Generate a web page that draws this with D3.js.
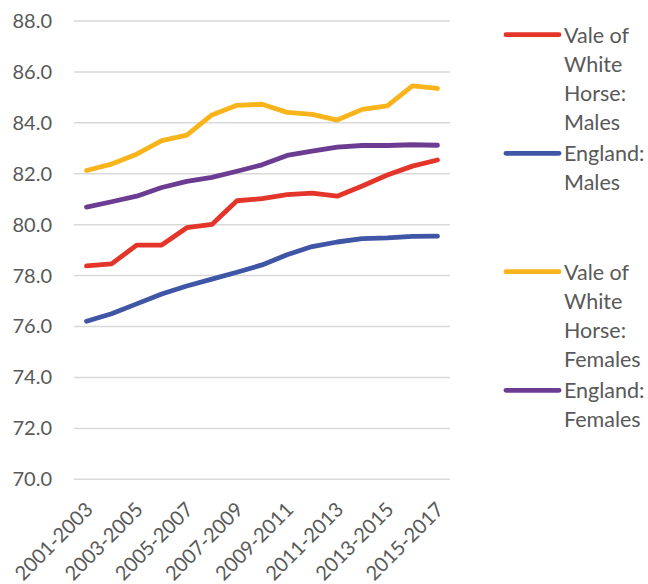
<!DOCTYPE html>
<html>
<head>
<meta charset="utf-8">
<script src="https://cdn.jsdelivr.net/npm/d3@7"></script>
<style>
  html, body { margin: 0; padding: 0; background: #fff; }
  svg { display: block; font-family: Lato, "Open Sans", sans-serif; }
</style>
</head>
<body>
<svg id="chart" width="648" height="584"></svg>
<script>
// Three-year periods
const periods = [
  "2001-2003", "2002-2004", "2003-2005", "2004-2006", "2005-2007",
  "2006-2008", "2007-2009", "2008-2010", "2009-2011", "2010-2012",
  "2011-2013", "2012-2014", "2013-2015", "2014-2016", "2015-2017"
];

// Life expectancy at birth (years)
const valeMales     = [78.38, 78.46, 79.20, 79.20, 79.88, 80.01, 80.94, 81.02, 81.18, 81.24, 81.12, 81.52, 81.95, 82.30, 82.54];
const englandMales  = [76.21, 76.50, 76.89, 77.28, 77.59, 77.86, 78.13, 78.42, 78.82, 79.14, 79.32, 79.45, 79.48, 79.54, 79.55];
const valeFemales   = [82.13, 82.38, 82.77, 83.30, 83.52, 84.31, 84.69, 84.73, 84.41, 84.33, 84.11, 84.53, 84.67, 85.45, 85.35];
const englandFemales= [80.69, 80.90, 81.12, 81.46, 81.70, 81.86, 82.10, 82.35, 82.72, 82.89, 83.05, 83.11, 83.11, 83.14, 83.12];

const yTicks = [70, 72, 74, 76, 78, 80, 82, 84, 86, 88];
const xTickLabels = ["2001-2003", "2003-2005", "2005-2007", "2007-2009", "2009-2011", "2011-2013", "2013-2015", "2015-2017"];

const seriesNames = [
  ["Vale of", "White", "Horse:", "Males"],
  ["England:", "Males"],
  ["Vale of", "White", "Horse:", "Females"],
  ["England:", "Females"]
];
const seriesColors = ["#e4352a", "#3e56a5", "#fab41b", "#6c3c92"];
const seriesValues = [valeMales, englandMales, valeFemales, englandFemales];

const svg = d3.select("#chart");
const plot = { left: 74, right: 450, top: 21, bottom: 479.3 };
const textColor = "#595959";
const axisFont = "20px";
const legendFont = "21.5px";

const x = d3.scaleBand().domain(periods).range([plot.left, plot.right]);
const cx = d => x(d) + x.bandwidth() / 2;
const y = d3.scaleLinear().domain([70, 88]).range([plot.bottom, plot.top]);

// Horizontal gridlines
svg.append("g")
  .selectAll("line")
  .data(yTicks)
  .join("line")
  .attr("x1", plot.left).attr("x2", plot.right)
  .attr("y1", d => y(d)).attr("y2", d => y(d))
  .attr("stroke", "#d9d9d9").attr("stroke-width", 1.5);

// Y axis labels
const yAxis = svg.append("g")
  .attr("transform", `translate(${plot.left},0)`)
  .call(d3.axisLeft(y).tickValues(yTicks).tickFormat(d3.format(".1f")).tickSize(0).tickPadding(22));
yAxis.select(".domain").remove();
yAxis.selectAll("text")
  .attr("fill", textColor)
  .style("font-size", axisFont)
  .style("font-family", "Lato, 'Open Sans', sans-serif");

// X axis labels, rotated
const xAxis = svg.append("g")
  .attr("transform", `translate(0,${plot.bottom})`)
  .call(d3.axisBottom(x).tickValues(xTickLabels).tickSize(0).tickPadding(0));
xAxis.select(".domain").remove();
xAxis.selectAll("text")
  .attr("fill", textColor)
  .style("font-size", axisFont)
  .style("font-family", "Lato, 'Open Sans', sans-serif")
  .attr("text-anchor", "end")
  .attr("dy", null)
  .attr("y", 0)
  .attr("transform", "translate(4,28) rotate(-45)")
  .attr("dominant-baseline", "middle");

// Series lines
const line = d3.line()
  .x((d, i) => cx(periods[i]))
  .y(d => y(d));

svg.append("g")
  .selectAll("path")
  .data(seriesValues)
  .join("path")
  .attr("d", d => line(d))
  .attr("fill", "none")
  .attr("stroke", (d, i) => seriesColors[i])
  .attr("stroke-width", 4.8)
  .attr("stroke-linejoin", "round")
  .attr("stroke-linecap", "round");

// Legend
const legendTops = [34.7, 153.3, 271.7, 390.3];
const lineHeight = 29.2;
const legend = svg.append("g");
seriesNames.forEach((lines, i) => {
  const g = legend.append("g").attr("transform", `translate(0,${legendTops[i]})`);
  g.append("line")
    .attr("x1", 506).attr("x2", 559)
    .attr("y1", 0).attr("y2", 0)
    .attr("stroke", seriesColors[i])
    .attr("stroke-width", 4.8)
    .attr("stroke-linecap", "round");
  g.selectAll("text")
    .data(lines)
    .join("text")
    .attr("x", 564)
    .attr("y", (d, j) => j * lineHeight)
    .attr("dominant-baseline", "central")
    .attr("fill", textColor)
    .style("font-size", legendFont)
    .text(d => d);
});
</script>
</body>
</html>
